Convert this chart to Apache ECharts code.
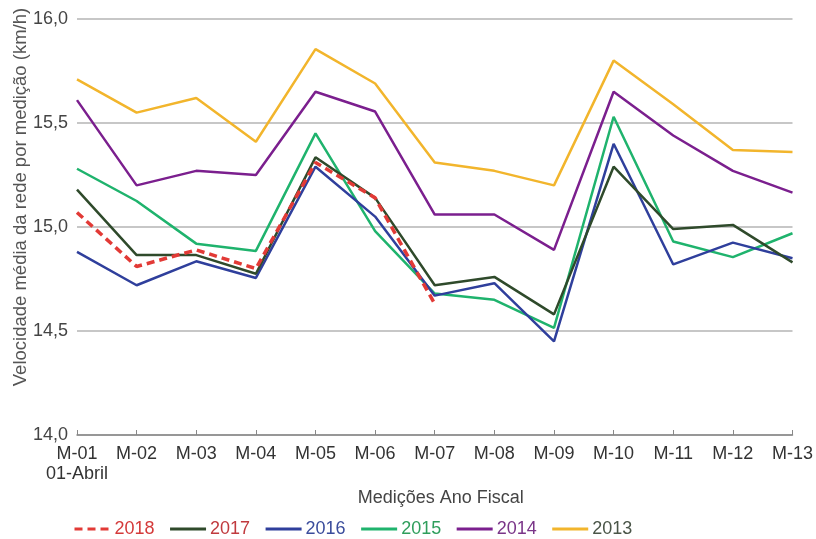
<!DOCTYPE html>
<html>
<head>
<meta charset="utf-8">
<script src="https://cdn.jsdelivr.net/npm/echarts@6/dist/echarts.min.js"></script>
<style>
  html, body { margin: 0; padding: 0; background: #fff; }
  #main { width: 816px; height: 539px; }
</style>
</head>
<body>
<div id="main"></div>
<script>
// medições do ano fiscal
var categories = ["M-01\n01-Abril", "M-02", "M-03", "M-04", "M-05", "M-06", "M-07",
  "M-08", "M-09", "M-10", "M-11", "M-12", "M-13"];

// velocidade média (km/h) por ano
var v2018 = [15.07, 14.81, 14.89, 14.80, 15.31, 15.14, 14.63, null, null, null, null, null, null];
var v2017 = [15.18, 14.865, 14.865, 14.775, 15.335, 15.14, 14.72, 14.76, 14.58, 15.29, 14.99, 15.01, 14.83];
var v2016 = [14.88, 14.72, 14.835, 14.755, 15.29, 15.05, 14.67, 14.73, 14.45, 15.40, 14.82, 14.925, 14.85];
var v2015 = [15.28, 15.125, 14.92, 14.885, 15.45, 14.98, 14.68, 14.65, 14.515, 15.53, 14.93, 14.855, 14.97];
var v2014 = [15.61, 15.20, 15.27, 15.25, 15.65, 15.555, 15.06, 15.06, 14.89, 15.65, 15.44, 15.27, 15.165];
var v2013 = [15.71, 15.55, 15.62, 15.41, 15.855, 15.69, 15.31, 15.27, 15.20, 15.80, 15.59, 15.37, 15.36];

var years = ["2018", "2017", "2016", "2015", "2014", "2013"];
var lineColors = ["#e23a36", "#2f4a2b", "#2f3f9c", "#1fb36d", "#7b1f8e", "#f2b52c"];
var textColors = ["#d43a3a", "#c03a3e", "#3a4c9c", "#2f9e5c", "#7a3588", "#4a5548"];
var allData = [v2018, v2017, v2016, v2015, v2014, v2013];

var font = "'Liberation Sans', Arial, sans-serif";

var series = years.map(function (y, i) {
  return {
    name: y,
    type: "line",
    data: allData[i],
    symbol: "none",
    z: i === 0 ? 20 : 10 - i,
    lineStyle: {
      color: lineColors[i],
      width: i === 0 ? 3.5 : 2.5,
      type: i === 0 ? [8, 5] : "solid"
    },
    itemStyle: { color: lineColors[i] }
  };
});

var legendData = years.map(function (y, i) {
  return { name: y, textStyle: { color: textColors[i] } };
});

var chart = echarts.init(document.getElementById("main"));
chart.setOption({
  animation: false,
  backgroundColor: "#fff",
  textStyle: { fontFamily: font },
  grid: { left: 77, right: 23, top: 19, bottom: 104 },
  legend: {
    data: legendData,
    left: 68,
    top: 515,
    itemWidth: 36,
    itemHeight: 12,
    itemGap: 14,
    itemStyle: { opacity: 0 },
    lineStyle: { width: 3 },
    textStyle: { fontSize: 18, fontFamily: font, padding: [0, 0, 0, -1] }
  },
  xAxis: {
    type: "category",
    data: categories,
    boundaryGap: false,
    name: "Medições Ano Fiscal",
    nameLocation: "middle",
    nameGap: 52,
    nameTextStyle: { fontSize: 18, color: "#444", fontFamily: font, padding: [0, 0, 0, 12] },
    axisLine: { lineStyle: { color: "#888", width: 1.5 } },
    axisTick: { inside: true, length: 5, lineStyle: { color: "#888" } },
    axisLabel: { interval: 0, fontSize: 18, color: "#333", margin: 9, lineHeight: 20, fontFamily: font }
  },
  yAxis: {
    type: "value",
    min: 14,
    max: 16,
    interval: 0.5,
    axisLine: { show: false },
    axisTick: { show: false },
    splitLine: { lineStyle: { color: "#b4b4b4", width: 1.5 } },
    axisLabel: {
      fontSize: 18,
      color: "#444",
      margin: 9,
      fontFamily: font,
      formatter: function (v) { return v.toFixed(1).replace(".", ","); }
    }
  },
  graphic: [{
    type: "text",
    x: 21,
    y: 197,
    rotation: Math.PI / 2,
    style: {
      text: "Velocidade média da rede por medição (km/h)",
      font: "18.5px " + font,
      fill: "#555",
      align: "center",
      verticalAlign: "middle"
    }
  }],
  series: series
});
</script>
</body>
</html>
